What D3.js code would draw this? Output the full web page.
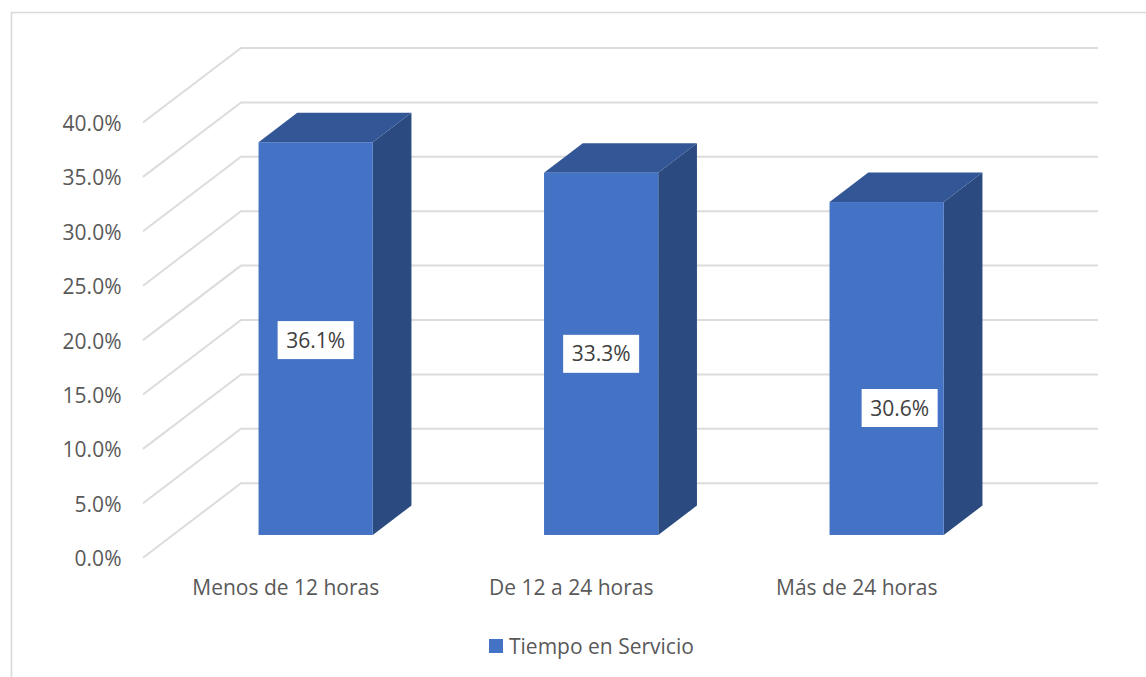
<!DOCTYPE html>
<html><head><meta charset="utf-8">
<script src="https://cdn.jsdelivr.net/npm/d3@7"></script>
<style>
html,body{margin:0;padding:0;background:#fff}
svg{display:block}
text{font-family:"Open Sans","Noto Sans",sans-serif}
</style></head><body>
<svg id="c" width="1146" height="677"></svg>
<script>
const categories = ["Menos de 12 horas","De 12 a 24 horas","Más de 24 horas"];
const values = [36.1,33.3,30.6];
const tickValues = [0,5,10,15,20,25,30,35,40];
const seriesName = "Tiempo en Servicio";

const svg = d3.select("#c");
const fmt = d => d.toFixed(1)+"%";

// front plane of the 3-D box
const x0=143, x1=999.5, yBase=557.7, yTop=122.5;
const depthX=98, depthY=-74.5;          // floor depth
const barFrontFrac=0.305, barDepthFrac=0.395; // bar position within floor depth
const y = d3.scaleLinear().domain([0,40]).range([yBase,yTop]);
const x = d3.scaleBand().domain(categories).range([x0,x1]);
const barW = x.step()*0.4;
const labelNudge = [[0,1.5],[0,0],[13,39.5]];
const fs = 21;

// chart frame (open at right and bottom, cropped)
svg.append("path").attr("d","M11.5,677V12.5H1146").attr("fill","none")
  .attr("stroke","#d9d9d9").attr("stroke-width",1.6);

// gridlines
const grid = svg.append("g").attr("fill","none").attr("stroke","#dcdcdc").attr("stroke-width",2);
grid.selectAll("path").data(tickValues).join("path")
  .attr("d",d=>`M${x0},${y(d)}L${x0+depthX},${y(d)+depthY}H1098`);

// y tick labels
svg.append("g").selectAll("text").data(tickValues).join("text")
  .attr("x",121.5).attr("y",d=>y(d)+0.6).attr("dy","0.38em").attr("text-anchor","end")
  .attr("font-size",fs).attr("fill","#595959").text(fmt);

// bars
const bars = svg.append("g").selectAll("g").data(categories).join("g");
const dx=depthX*barDepthFrac, dy=depthY*barDepthFrac;
const ox=depthX*barFrontFrac, oy=depthY*barFrontFrac;
const geo=(c,i)=>{const l=x(c)+x.bandwidth()/2-barW/2+ox, r=l+barW, b=yBase+oy, t=y(values[i])+oy;return {l,r,b,t};};
bars.append("path").attr("fill","#2a4a80").attr("d",(c,i)=>{const g=geo(c,i);
  return `M${g.r},${g.t}l${dx},${dy}V${g.b+dy}L${g.r},${g.b}Z`;});
bars.append("path").attr("fill","#335796").attr("d",(c,i)=>{const g=geo(c,i);
  return `M${g.l},${g.t}l${dx},${dy}H${g.r+dx}L${g.r},${g.t}Z`;});
bars.append("rect").attr("fill","#4472c4")
  .attr("x",(c,i)=>geo(c,i).l).attr("y",(c,i)=>geo(c,i).t)
  .attr("width",barW).attr("height",(c,i)=>geo(c,i).b-geo(c,i).t);

// data labels
const lw=76, lh=38;
bars.append("rect").attr("fill","#fff").attr("width",lw).attr("height",lh)
  .attr("x",(c,i)=>{const g=geo(c,i);return (g.l+g.r)/2+labelNudge[i][0]-lw/2;})
  .attr("y",(c,i)=>{const g=geo(c,i);return (g.t+g.b)/2+labelNudge[i][1]-lh/2;});
bars.append("text").attr("text-anchor","middle").attr("dy","0.36em")
  .attr("font-size",fs).attr("fill","#404040")
  .attr("x",(c,i)=>{const g=geo(c,i);return (g.l+g.r)/2+labelNudge[i][0];})
  .attr("y",(c,i)=>{const g=geo(c,i);return (g.t+g.b)/2+labelNudge[i][1];})
  .text((c,i)=>fmt(values[i]));

// category labels
svg.append("g").selectAll("text").data(categories).join("text")
  .attr("x",c=>x(c)+x.bandwidth()/2).attr("y",587.5).attr("dy","0.36em")
  .attr("text-anchor","middle").attr("font-size",fs).attr("fill","#595959").text(c=>c);

// legend
svg.append("rect").attr("x",489).attr("y",639).attr("width",14).attr("height",14).attr("fill","#4472c4");
svg.append("text").attr("x",509).attr("y",646).attr("dy","0.36em")
  .attr("font-size",fs).attr("fill","#595959").text(seriesName);
</script>
</body></html>
